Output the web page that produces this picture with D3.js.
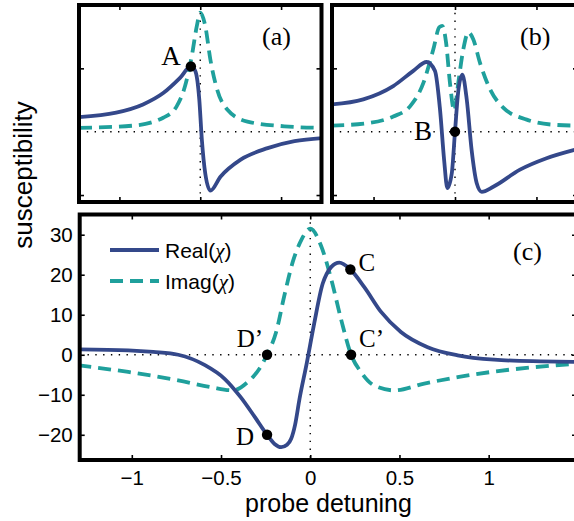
<!DOCTYPE html>
<html>
<head>
<meta charset="utf-8">
<script src="https://cdn.jsdelivr.net/npm/d3@7"></script>
<style>
  html, body { margin: 0; padding: 0; background: #fff; }
  svg { display: block; }
  .sans { font-family: "Liberation Sans", Arial, Helvetica, sans-serif; }
  .serif { font-family: "Liberation Serif", "Times New Roman", serif; }
</style>
</head>
<body>
<script>
// panel (c): values, [detuning, chi]
var realC = [[-1.30, 1.35], [-1.02, 1.1], [-0.88, 0.7], [-0.74, 0.0], [-0.59, -2.6],
             [-0.48, -6.0], [-0.39, -10.6], [-0.31, -15.6], [-0.242, -20], [-0.2, -22.3],
             [-0.163, -23.1], [-0.13, -22.5], [-0.107, -21], [-0.085, -17.5], [-0.06, -11],
             [-0.02, -2.2], [0.022, 7.8], [0.07, 17.8], [0.092, 20.2], [0.117, 21.9],
             [0.163, 23.0], [0.225, 21.3], [0.303, 16.9], [0.397, 10.7], [0.508, 5.7],
             [0.658, 1.9], [0.826, -0.15], [1.031, -1.24], [1.292, -1.66], [1.5, -1.8]];
var imagC = [[-1.30, -2.65], [-1.02, -4.3], [-0.74, -6.4], [-0.555, -8.1], [-0.434, -8.9],
             [-0.35, -6.8], [-0.285, -3.5], [-0.242, 0], [-0.191, 5.7], [-0.145, 14.8],
             [-0.098, 23.2], [-0.051, 28.6], [0.0, 31.5], [0.06, 27.3], [0.117, 19.0],
             [0.172, 9.0], [0.229, 0], [0.284, -4.3], [0.359, -7.7], [0.471, -8.9],
             [0.639, -7.2], [0.826, -5.6], [1.031, -4.2], [1.255, -3.1], [1.5, -2.2]];

// panel (a), arbitrary units
var realA = [[-0.75, 0.23], [-0.52, 0.30], [-0.354, 0.43], [-0.229, 0.61], [-0.125, 0.85],
             [-0.058, 1.03], [-0.031, 0.96], [-0.006, 0.51], [0.01, -0.13], [0.031, -0.66],
             [0.0625, -0.93], [0.125, -0.71], [0.25, -0.44], [0.417, -0.26], [0.583, -0.15],
             [0.76, -0.10]];
var imagA = [[-0.75, 0.06], [-0.417, 0.095], [-0.229, 0.22], [-0.146, 0.40], [-0.094, 0.72],
             [-0.052, 1.2], [-0.021, 1.67], [0, 1.88], [0.031, 1.67], [0.0625, 1.14],
             [0.104, 0.67], [0.167, 0.35], [0.292, 0.16], [0.52, 0.085], [0.76, 0.06]];

// panel (b), arbitrary units
var realB = [[-0.76, 0.43], [-0.563, 0.51], [-0.379, 0.72], [-0.256, 0.96], [-0.174, 1.10],
             [-0.123, 0.96], [-0.092, 0.35], [-0.067, -0.44], [-0.047, -0.89], [-0.02, -0.66],
             [0, 0], [0.02, 0.64], [0.045, 0.90], [0.072, 0.51], [0.102, -0.29],
             [0.133, -0.81], [0.164, -0.95], [0.235, -0.87], [0.399, -0.60], [0.562, -0.42],
             [0.76, -0.27]];
var imagB = [[-0.76, 0.095], [-0.521, 0.14], [-0.379, 0.24], [-0.276, 0.40], [-0.194, 0.77],
             [-0.133, 1.30], [-0.096, 1.65], [-0.078, 1.67], [-0.055, 1.41], [-0.031, 0.77],
             [-0.005, 0.33], [0.02, 0.77], [0.051, 1.30], [0.082, 1.57], [0.112, 1.46],
             [0.153, 1.09], [0.215, 0.67], [0.296, 0.38], [0.44, 0.19], [0.603, 0.11],
             [0.76, 0.095]];

var points = [
  { name: "A", panel: "a", x: -0.058, y: 1.03 },
  { name: "B", panel: "b", x: 0, y: 0 },
  { name: "C", panel: "c", x: 0.225, y: 21.3 },
  { name: "C\u2019", panel: "c", x: 0.229, y: 0 },
  { name: "D\u2019", panel: "c", x: -0.242, y: 0 },
  { name: "D", panel: "c", x: -0.242, y: -20 }
];

var xTicksC = [-1, -0.5, 0, 0.5, 1];
var yTicksC = [-20, -10, 0, 10, 20, 30];
var xTicksSmall = [-0.5, 0, 0.5];
var yTicksSmall = [-1, 1];
var legendLabels = ["Real", "Imag"];

const WIDTH = 574;
const HEIGHT = 521;
const NAVY = "#34488a";
const TEAL = "#1fa09c";
const FRAME = 4;

var translate = function (x, y) {
  return "translate(" + x + "," + y + ")";
};

// panel boxes (pixels)
var boxA = { left: 79, right: 321.5, top: 5, bottom: 202 };
var boxB = { left: 332, right: 578, top: 5, bottom: 202 };
var boxC = { left: 79.7, right: 577, top: 214.5, bottom: 460 };

var xA = d3.scaleLinear().domain([-0.75, 0.75]).range([boxA.left, boxA.right]);
var yA = d3.scaleLinear().domain([-1.11, 2.0]).range([boxA.bottom, boxA.top]);
var xB = d3.scaleLinear().domain([-0.755, 0.755]).range([boxB.left, boxB.right]);
var yB = d3.scaleLinear().domain([-1.11, 2.0]).range([boxB.bottom, boxB.top]);
var xC = d3.scaleLinear().domain([-1.292, 1.495]).range([boxC.left, boxC.right]);
var yC = d3.scaleLinear().domain([-26.3, 35.05]).range([boxC.bottom, boxC.top]);

var scales = { a: [xA, yA], b: [xB, yB], c: [xC, yC] };

var svg = d3.select("body").append("svg")
  .attr("width", WIDTH)
  .attr("height", HEIGHT);

var defs = svg.append("defs");

var drawPanel = function (id, box, xs, ys, real, imag, xt, yt) {
  defs.append("clipPath").attr("id", "clip-" + id)
    .append("rect")
    .attr("x", box.left).attr("y", box.top)
    .attr("width", box.right - box.left).attr("height", box.bottom - box.top);

  var g = svg.append("g");

  // dotted zero lines
  g.append("line")
    .attr("x1", box.left).attr("x2", box.right)
    .attr("y1", ys(0)).attr("y2", ys(0))
    .attr("stroke", "#000").attr("stroke-width", 1.4)
    .attr("stroke-dasharray", "1.4,6.4");
  g.append("line")
    .attr("x1", xs(0)).attr("x2", xs(0))
    .attr("y1", box.top).attr("y2", box.bottom)
    .attr("stroke", "#000").attr("stroke-width", 1.4)
    .attr("stroke-dasharray", "1.4,6.4");

  var line = d3.line()
    .x(function (d) { return xs(d[0]); })
    .y(function (d) { return ys(d[1]); })
    .curve(d3.curveMonotoneX);

  var curves = g.append("g").attr("clip-path", "url(#clip-" + id + ")");
  curves.append("path")
    .attr("d", line(imag))
    .attr("fill", "none")
    .attr("stroke", TEAL)
    .attr("stroke-width", 3.8)
    .attr("stroke-dasharray", "13,7");
  curves.append("path")
    .attr("d", line(real))
    .attr("fill", "none")
    .attr("stroke", NAVY)
    .attr("stroke-width", 3.8);

  // inward ticks on all sides
  var axes = [
    [d3.axisBottom(xs).tickValues(xt), box.bottom, 0],
    [d3.axisTop(xs).tickValues(xt).tickFormat(""), box.top, 0],
    [d3.axisLeft(ys).tickValues(yt), 0, box.left],
    [d3.axisRight(ys).tickValues(yt).tickFormat(""), 0, box.right]
  ];
  axes.forEach(function (a, i) {
    var ax = a[0].tickSizeInner(-5).tickSizeOuter(0);
    if (id !== "c") ax.tickFormat("");
    else if (i === 0) ax.tickFormat(d3.format("")).tickPadding(10);
    else if (i === 2) ax.tickFormat(d3.format("")).tickPadding(7);
    var ag = g.append("g")
      .attr("transform", translate(a[2], a[1]))
      .call(ax);
    ag.select(".domain").remove();
    ag.selectAll(".tick line").attr("stroke", "#000").attr("stroke-width", 1.6);
    ag.selectAll(".tick text")
      .attr("class", "sans")
      .attr("fill", "#000")
      .style("font-size", "20.5px");
  });

  g.append("rect")
    .attr("x", box.left).attr("y", box.top)
    .attr("width", box.right - box.left).attr("height", box.bottom - box.top)
    .attr("fill", "none")
    .attr("stroke", "#000")
    .attr("stroke-width", FRAME);
};

drawPanel("a", boxA, xA, yA, realA, imagA, xTicksSmall, yTicksSmall);
drawPanel("b", boxB, xB, yB, realB, imagB, xTicksSmall, yTicksSmall);
drawPanel("c", boxC, xC, yC, realC, imagC, xTicksC, yTicksC);

// marked points and their letters
var labelOffset = {
  "A": [-10, -1, "end", 27], "B": [-23, 8, "end", 27],
  "C": [8, 1, "start", 25], "C\u2019": [8, -8, "start", 25],
  "D\u2019": [-4, -8, "end", 25], "D": [-13, 10.5, "end", 25]
};
points.forEach(function (p) {
  var xs = scales[p.panel][0], ys = scales[p.panel][1];
  var o = labelOffset[p.name];
  svg.append("circle")
    .attr("cx", xs(p.x)).attr("cy", ys(p.y))
    .attr("r", 5.2).attr("fill", "#000");
  svg.append("text")
    .attr("class", "serif")
    .attr("x", xs(p.x) + o[0]).attr("y", ys(p.y) + o[1])
    .attr("text-anchor", o[2])
    .style("font-size", o[3] + "px")
    .text(p.name);
});

// panel tags
[["(a)", 262, 45], ["(b)", 520, 45], ["(c)", 513, 260]].forEach(function (t) {
  svg.append("text").attr("class", "serif")
    .attr("x", t[1]).attr("y", t[2])
    .style("font-size", "26px")
    .text(t[0]);
});

// legend
var legend = svg.append("g").attr("transform", translate(110, 250));
legendLabels.forEach(function (name, i) {
  var row = legend.append("g").attr("transform", translate(0, i * 31));
  row.append("line")
    .attr("x1", 0).attr("x2", 49).attr("y1", 0).attr("y2", 0)
    .attr("stroke", i === 0 ? NAVY : TEAL)
    .attr("stroke-width", 3.8)
    .attr("stroke-dasharray", i === 0 ? null : "13,7");
  var t = row.append("text").attr("class", "sans")
    .attr("x", 55).attr("y", 7.5)
    .style("font-size", "21px");
  t.append("tspan").text(name + "(");
  t.append("tspan").attr("class", "serif").style("font-style", "italic").text("\u03c7");
  t.append("tspan").text(")");
});

// axis titles
svg.append("text").attr("class", "sans")
  .attr("x", 328.5).attr("y", 512)
  .attr("text-anchor", "middle")
  .style("font-size", "25px")
  .text("probe detuning");
svg.append("text").attr("class", "sans")
  .attr("transform", translate(32, 175) + " rotate(-90)")
  .attr("text-anchor", "middle")
  .style("font-size", "26px")
  .text("susceptibility");
</script>
</body>
</html>
